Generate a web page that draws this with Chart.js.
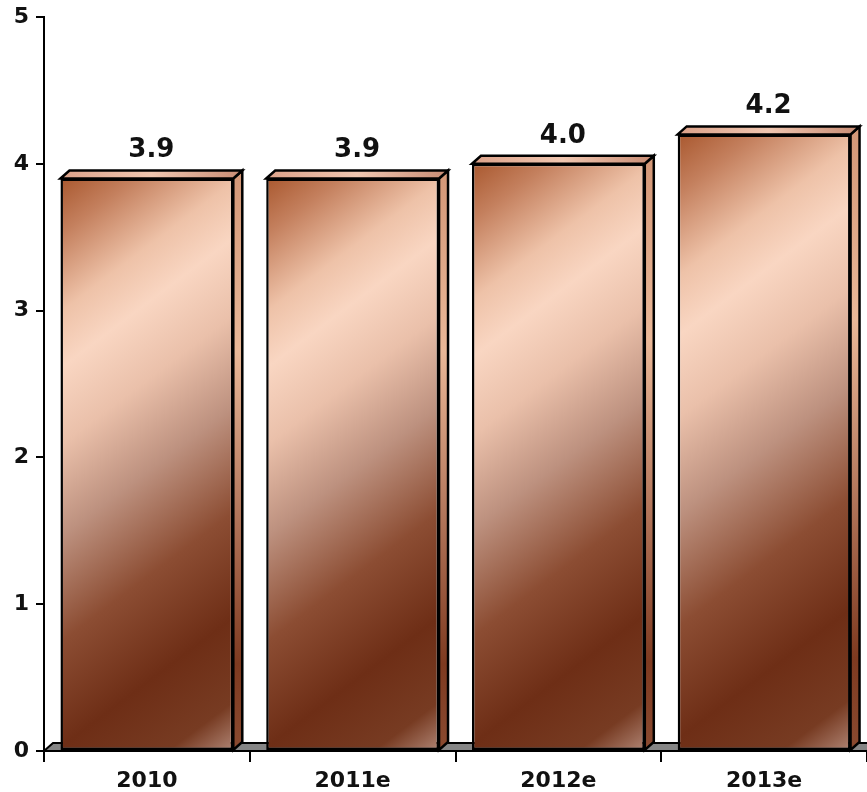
<!DOCTYPE html>
<html><head><meta charset="utf-8">
<style>html,body{margin:0;padding:0;background:#fff}#wrap{width:867px;height:792px}</style>
<script src="https://cdn.jsdelivr.net/npm/chart.js@4/dist/chart.umd.min.js"></script>
</head><body><div id="wrap"><canvas id="c" width="867" height="792"></canvas></div>
<script>
const categories = ['2010', '2011e', '2012e', '2013e'];
const values = [3.9, 3.9, 4.0, 4.2];
const valueLabels = ['3.9', '3.9', '4.0', '4.2'];
const yTickValues = [0, 1, 2, 3, 4, 5];

const DX = 9, DY = 8;
const BAR_PCT = 0.84;
const FONT = "'DejaVu Sans', Verdana, sans-serif";

function frontGradient(ctx, left, top, right, bottom) {
  const w = right - left, h = bottom - top;
  const vx = 130, vy = 173, n = Math.hypot(vx, vy);
  const ux = vx / n, uy = vy / n;
  const len = w * ux + h * uy;
  const g = ctx.createLinearGradient(left, top, left + ux * len, top + uy * len);
  g.addColorStop(0.00, '#a9582f');
  g.addColorStop(0.08, '#c4805e');
  g.addColorStop(0.19, '#eec2a8');
  g.addColorStop(0.27, '#f9d6c2');
  g.addColorStop(0.38, '#eac0aa');
  g.addColorStop(0.51, '#bd917f');
  g.addColorStop(0.66, '#8c4d33');
  g.addColorStop(0.81, '#6e2e16');
  g.addColorStop(0.93, '#773b22');
  g.addColorStop(1.00, '#b08575');
  return g;
}

const deco = {
  id: 'deco',
  beforeDatasetsDraw(chart) {
    const { ctx, chartArea: a } = chart;
    ctx.save();
    ctx.beginPath();
    ctx.moveTo(a.left, a.bottom);
    ctx.lineTo(a.left + DX, a.bottom - DY);
    ctx.lineTo(a.right + DX, a.bottom - DY);
    ctx.lineTo(a.right, a.bottom);
    ctx.closePath();
    ctx.fillStyle = '#858585';
    ctx.fill();
    ctx.lineWidth = 2;
    ctx.strokeStyle = '#000';
    ctx.stroke();
    ctx.restore();
  },
  afterDatasetsDraw(chart) {
    const { ctx } = chart;
    const meta = chart.getDatasetMeta(0);
    meta.data.forEach((el, i) => {
      const p = el.getProps(['x', 'y', 'width', 'base'], true);
      const left = p.x - p.width / 2, right = p.x + p.width / 2;
      const top = p.y, bot = p.base;
      ctx.save();
      ctx.lineJoin = 'miter';
      ctx.lineWidth = 2.5;
      ctx.strokeStyle = '#000';
      // side face
      const sg = ctx.createLinearGradient(0, top, 0, bot);
      sg.addColorStop(0, '#d49878');
      sg.addColorStop(0.3, '#eab898');
      sg.addColorStop(0.6, '#b07358');
      sg.addColorStop(0.85, '#7e3a20');
      sg.addColorStop(1, '#8a4a30');
      ctx.beginPath();
      ctx.moveTo(right, top);
      ctx.lineTo(right + DX, top - DY);
      ctx.lineTo(right + DX, bot - DY);
      ctx.lineTo(right, bot);
      ctx.closePath();
      ctx.fillStyle = sg;
      ctx.fill();
      ctx.stroke();
      // top face
      const tg = ctx.createLinearGradient(left, 0, right + DX, 0);
      tg.addColorStop(0, '#dca28a');
      tg.addColorStop(0.5, '#f0c6b0');
      tg.addColorStop(1, '#c88c74');
      ctx.beginPath();
      ctx.moveTo(left, top);
      ctx.lineTo(left + DX, top - DY);
      ctx.lineTo(right + DX, top - DY);
      ctx.lineTo(right, top);
      ctx.closePath();
      ctx.fillStyle = tg;
      ctx.fill();
      ctx.stroke();
      // value label
      ctx.fillStyle = '#111';
      ctx.font = "bold 26px " + FONT;
      ctx.textAlign = 'center';
      ctx.textBaseline = 'alphabetic';
      ctx.fillText(valueLabels[i], p.x + DX / 2, top - 21);
      ctx.restore();
    });
  }
};

new Chart(document.getElementById('c'), {
  type: 'bar',
  data: {
    labels: categories,
    datasets: [{
      data: values,
      barPercentage: BAR_PCT,
      categoryPercentage: 1,
      borderColor: '#000',
      borderWidth: 2.5,
      borderSkipped: false,
      backgroundColor: (c) => {
        const chart = c.chart;
        if (!chart.chartArea || c.type !== 'data') return '#a0522d';
        const xs = chart.scales.x, ys = chart.scales.y;
        const cx = xs.getPixelForValue(c.dataIndex);
        const w = (xs.width / categories.length) * BAR_PCT;
        const top = ys.getPixelForValue(c.raw);
        const bot = ys.getPixelForValue(0);
        return frontGradient(chart.ctx, cx - w / 2, top, cx + w / 2, bot);
      }
    }]
  },
  options: {
    responsive: false,
    animation: false,
    layout: { padding: { top: 17, right: 0, left: 0, bottom: 0 } },
    plugins: { legend: { display: false }, tooltip: { enabled: false } },
    scales: {
      x: {
        grid: { display: true, drawOnChartArea: false, drawTicks: true, tickLength: 11, color: '#000', lineWidth: 2, offset: true },
        border: { display: true, color: '#000', width: 2 },
        ticks: { color: '#111', font: { family: FONT, size: 22, weight: 'bold' }, padding: 6, maxRotation: 0 },
        afterFit(s) { s.height = 41; s.paddingLeft = 0; s.paddingRight = 0; }
      },
      y: {
        min: 0, max: 5,
        afterBuildTicks(s) { s.ticks = yTickValues.map(v => ({ value: v })); },
        grid: { display: true, drawOnChartArea: false, drawTicks: true, tickLength: 8, color: '#000', lineWidth: 2 },
        border: { display: true, color: '#000', width: 2 },
        ticks: { color: '#111', font: { family: FONT, size: 22, weight: 'bold' }, padding: 7 },
        afterFit(s) { s.width = 44; s.paddingTop = 0; s.paddingBottom = 0; }
      }
    }
  },
  plugins: [deco]
});
</script>
</body></html>
